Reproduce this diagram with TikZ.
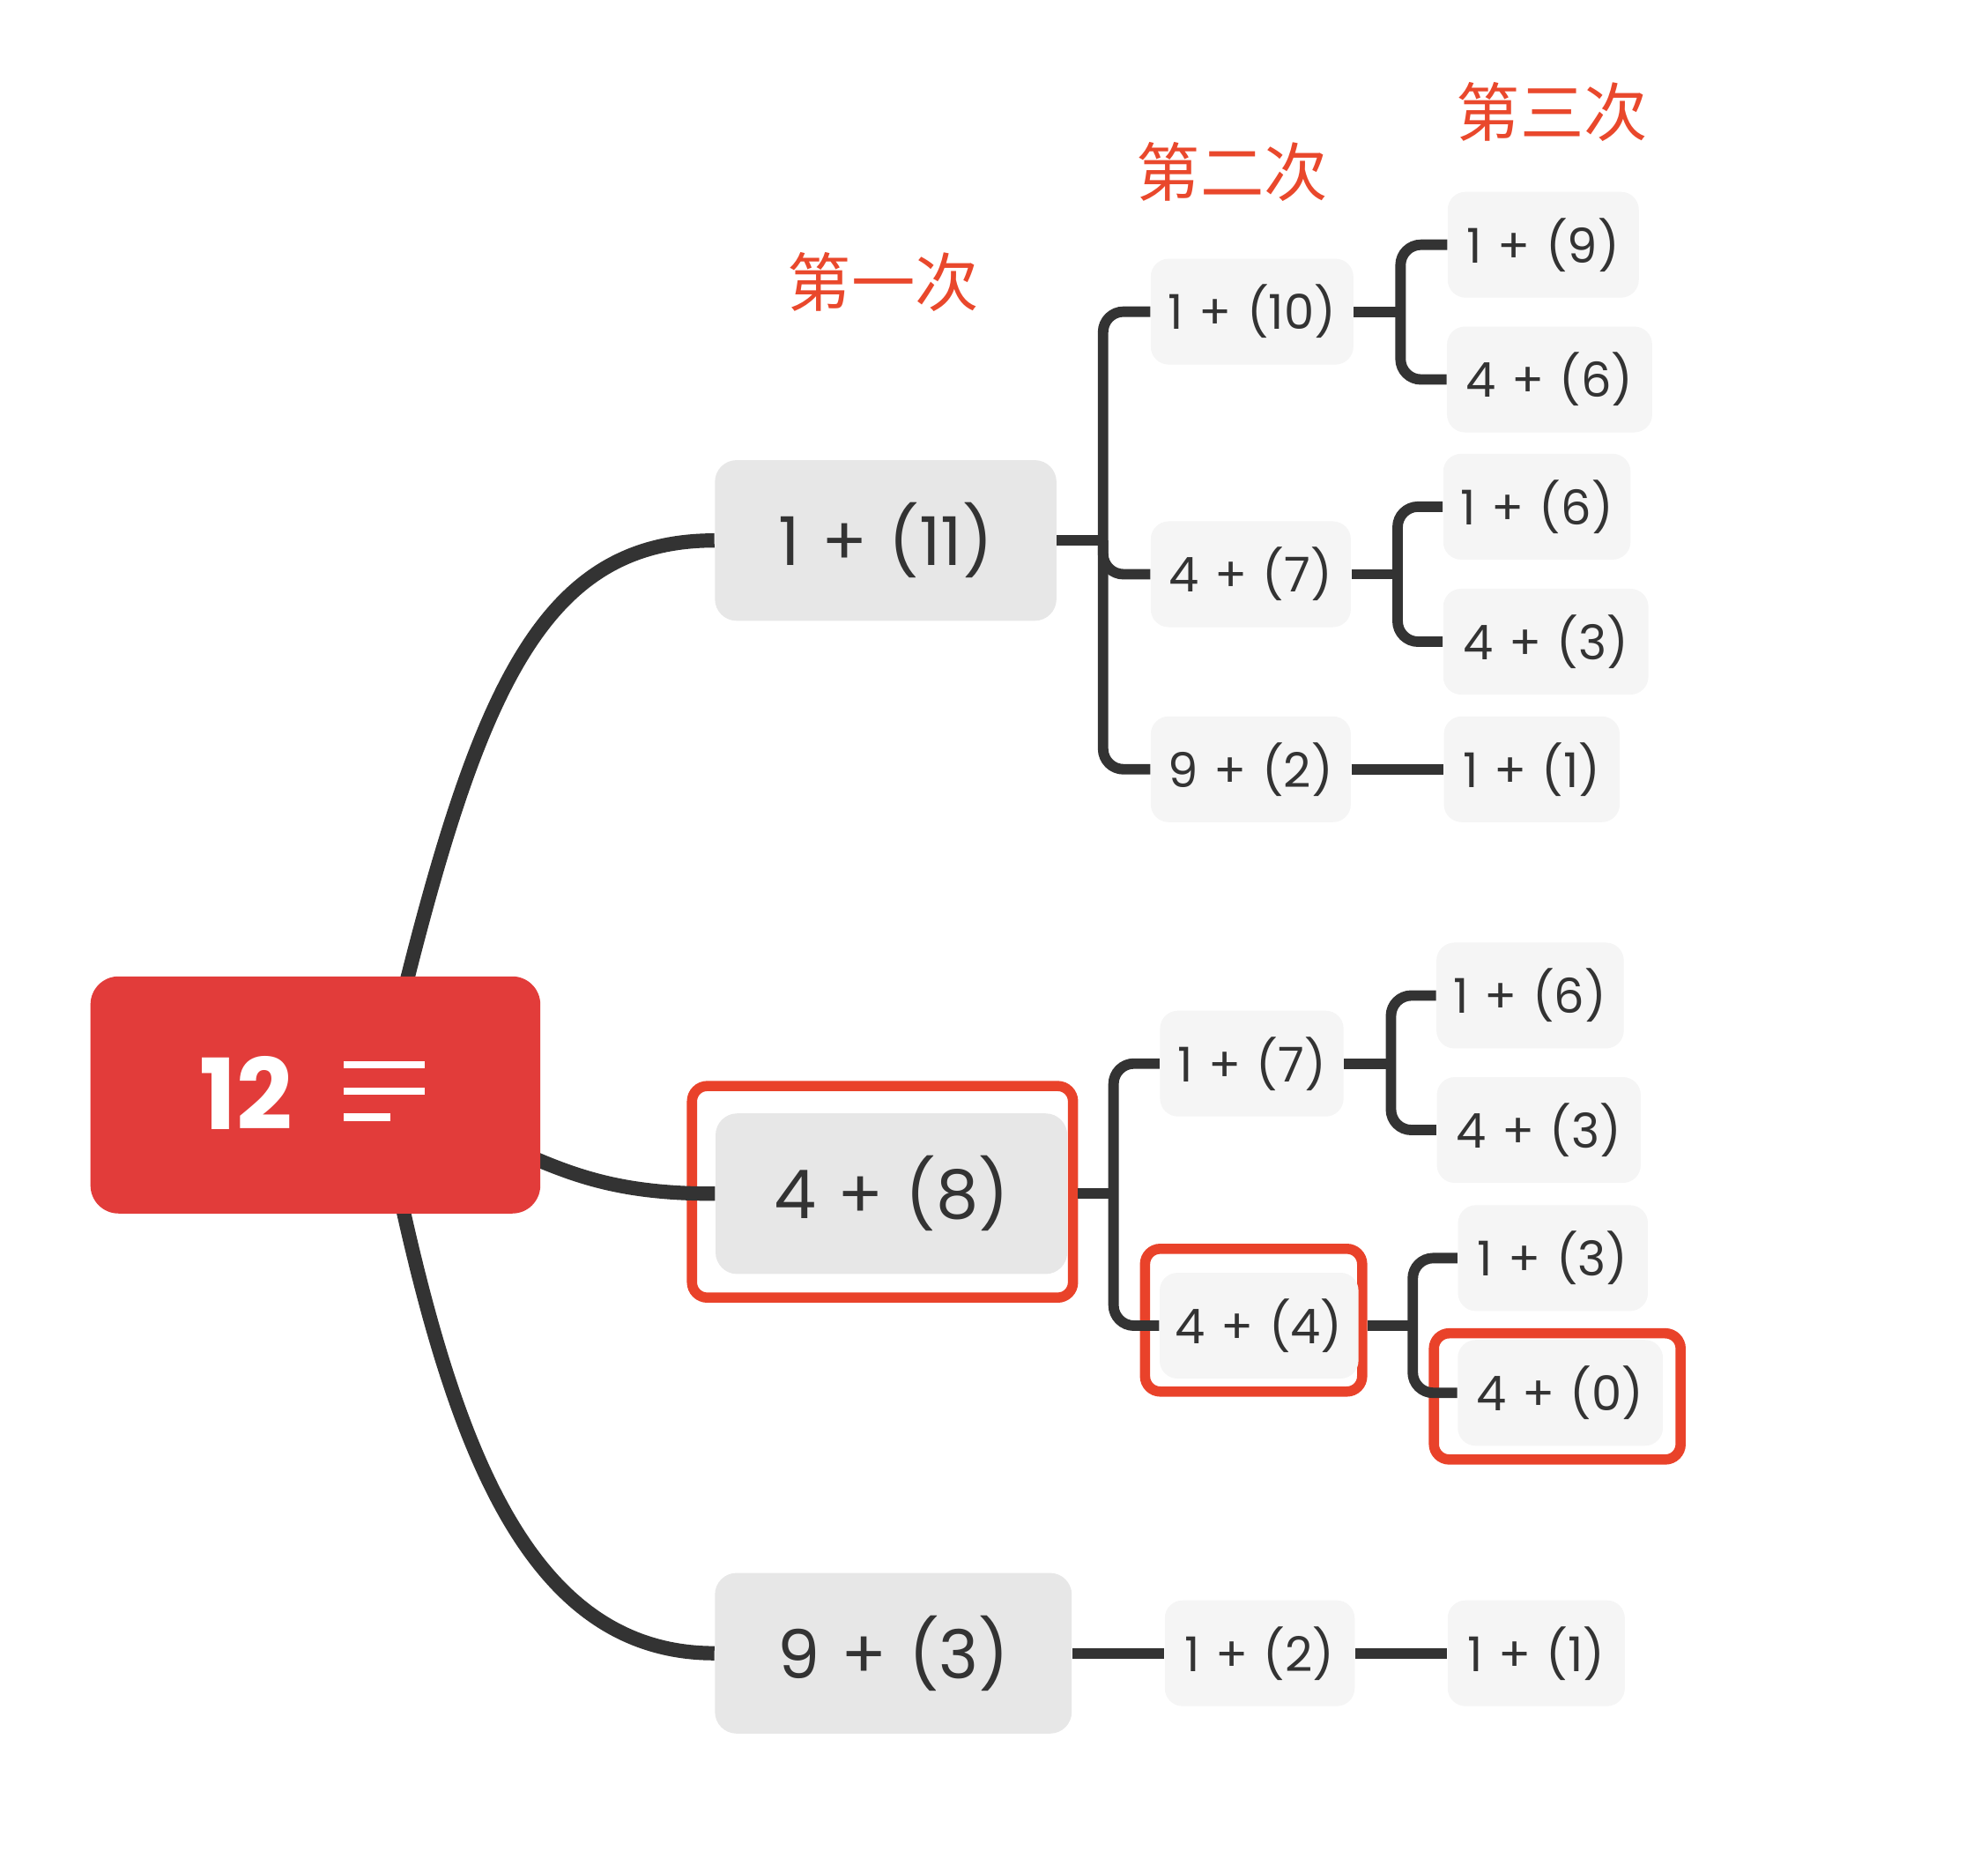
\documentclass[tikz,border=0pt]{standalone}
\usepackage{fontspec}
\setmainfont{Poppins}[Numbers=Proportional]
\newfontfamily\cjk{Noto Sans CJK SC}
\usetikzlibrary{calc}
\pgfdeclarelayer{bg}
\pgfsetlayers{bg,main}
\definecolor{txt}{HTML}{333333}
\definecolor{lnk}{HTML}{333333}
\definecolor{gA}{HTML}{E7E7E7}
\definecolor{gB}{HTML}{F5F5F5}
\definecolor{rootred}{HTML}{E23C3A}
\definecolor{hlred}{HTML}{E9422A}
\definecolor{lblred}{HTML}{E9482C}
\newcommand\widesp{\spaceskip=0.32em\relax}
\begin{document}
\begin{tikzpicture}[x=0.5pt,y=-0.5pt,
 topic/.style={rounded corners=8.5pt, fill=gA, text=txt, inner sep=0pt, minimum height=63pt, font=\fontsize{26.4}{30}\selectfont, execute at begin node=\widesp},
 sub/.style={rounded corners=7pt, fill=gB, text=txt, inner sep=0pt, minimum height=41.5pt, font=\fontsize{18.8}{22}\selectfont, execute at begin node=\widesp},
 hl/.style={draw=hlred, line width=4pt, rounded corners=6pt, inner sep=0pt},
 curve/.style={draw=lnk, line width=5.6pt},
 brk/.style={draw=lnk, line width=4.1pt, rounded corners=8pt},
 lbl/.style={text=lblred, font=\cjk\fontsize{25}{28}\selectfont, inner sep=0pt}
]
\useasboundingbox (0,0) rectangle (1560,1468.8);

% root
\node[fill=rootred, rounded corners=11pt, minimum width=176.5pt, minimum height=93pt, inner sep=0pt] (root) at (247.5,859) {};
\node[text=white, font=\bfseries\fontsize{38.5}{40}\selectfont, inner sep=0pt] (rt) at (193,857.5) {12};
\fill[white] (270,832.6) rectangle (333,838);
\fill[white] (270,853) rectangle (333,859);
\fill[white] (270,873.5) rectangle (306,879.6);

% level 1
\node[topic, minimum width=134pt] (n1) at (695,424) {1 + (11)};
\node[topic, minimum width=138pt] (n2) at (699.5,936.5) {4 + (8)};
\node[topic, minimum width=140pt] (n3) at (701,1297) {9 + (3)};

% level 2
\node[sub, minimum width=79.5pt] (a1) at (982.5,244.5) {1 + (10)};
\node[sub, minimum width=78.5pt] (a2) at (981.5,450.5) {4 + (7)};
\node[sub, minimum width=78.5pt] (a3) at (981.5,603.5) {9 + (2)};
\node[sub, minimum width=72pt] (c1) at (982.3,834.4) {1 + (7)};
\node[sub, minimum width=78pt] (c2) at (988,1040) {4 + (4)};
\node[sub, minimum width=74.5pt] (e1) at (988.5,1297) {1 + (2)};

% level 3
\node[sub, minimum width=75pt] (b1) at (1211,192) {1 + (9)};
\node[sub, minimum width=80.5pt] (b2) at (1216,297.7) {4 + (6)};
\node[sub, minimum width=73.5pt] (b3) at (1206,397.5) {1 + (6)};
\node[sub, minimum width=80.5pt] (b4) at (1213,503.4) {4 + (3)};
\node[sub, minimum width=69pt] (b5) at (1202,603.5) {1 + (1)};
\node[sub, minimum width=73.5pt] (d1) at (1200.7,781) {1 + (6)};
\node[sub, minimum width=80pt] (d2) at (1207.5,886.5) {4 + (3)};
\node[sub, minimum width=74.5pt] (d3) at (1218.6,987) {1 + (3)};
\node[sub, minimum width=80.5pt] (d4) at (1224.4,1092.7) {4 + (0)};
\node[sub, minimum width=69.5pt] (e2) at (1205.5,1297) {1 + (1)};

% labels
\node[lbl] (L1) at (693,221.5) {第一次};
\node[lbl] (L2) at (967,135) {第二次};
\node[lbl] (L3) at (1218,88) {第三次};

% highlight boxes and root curves (background)
\begin{pgfonlayer}{bg}
\node[hl, minimum width=149.5pt, minimum height=83pt] (h1) at (692.5,935) {};
\node[hl, minimum width=85.2pt, minimum height=56pt] (h2) at (983.7,1035.7) {};
\node[hl, minimum width=96.8pt, minimum height=49.5pt] (h3) at (1222,1095.5) {};
\draw[curve] ($(root.center)+(50,0)$) .. controls (368,560) and (415,424) .. (n1.west);
\draw[curve] ($(root.center)+(50,0)$) .. controls (420,900) and (440,936.5) .. (n2.west);
\draw[curve] ($(root.center)+(50,0)$) .. controls (345,1100) and (400,1297) .. (n3.west);
\end{pgfonlayer}

% stems
\coordinate (s1) at (865.6,424);
\coordinate (s2) at (1099,244.5);
\coordinate (s3) at (1096.7,450.5);
\coordinate (s4) at (873.8,936.5);
\coordinate (s5) at (1091.5,834.4);
\coordinate (s6) at (1108.6,1040);

% connectors
\draw[brk] (n1.east) -- (s1);
\draw[brk] (a1.west) -| (s1) |- (a3.west);
\draw[brk] (s1) |- (a2.west);
\draw[brk] (a1.east) -- (s2);
\draw[brk] (b1.west) -| (s2) |- (b2.west);
\draw[brk] (a2.east) -- (s3);
\draw[brk] (b3.west) -| (s3) |- (b4.west);
\draw[brk] (a3.east) -- (b5.west);
\draw[brk] (n2.east -| h1.east) -- (s4);
\draw[brk] (c1.west) -| (s4) |- (c2.west);
\draw[brk] (c1.east) -- (s5);
\draw[brk] (d1.west) -| (s5) |- (d2.west);
\draw[brk] (c2.east -| h2.east) -- (s6);
\draw[brk] (d3.west) -| (s6) |- (d4.west);
\draw[brk] (n3.east) -- (e1.west);
\draw[brk] (e1.east) -- (e2.west);
\end{tikzpicture}
\end{document}
